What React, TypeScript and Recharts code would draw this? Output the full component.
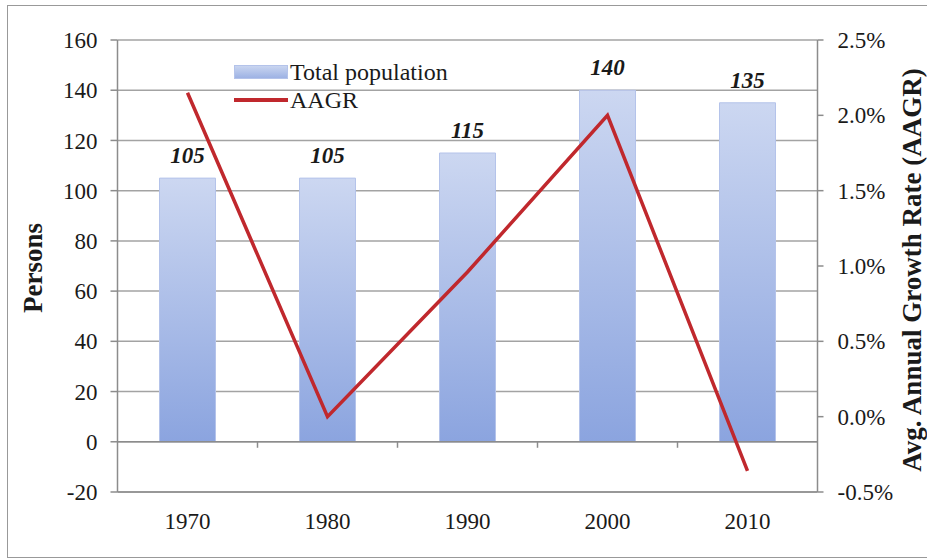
import { Bar, ComposedChart, Line, XAxis, YAxis, CartesianGrid, Legend, LabelList, ReferenceLine, Label } from 'recharts'

const YEARS = ['1970', '1980', '1990', '2000', '2010']
const POPULATION = [105, 105, 115, 140, 135]
const AAGR = [2.15, 0.0, 0.96, 2.0, -0.36]
const PERSON_TICKS = [-20, 0, 20, 40, 60, 80, 100, 120, 140, 160]
const RATE_TICKS = [-0.5, 0, 0.5, 1.0, 1.5, 2.0, 2.5]

const data = YEARS.map((year, i) => ({ year, population: POPULATION[i], aagr: AAGR[i] }))

const FONT = 'Liberation Serif'
const GRID = '#a3a3a3'
const AXIS = '#8c8c8c'
const RED = '#c0282d'
const TEXT = '#1a1a1a'

const tickStyle = { fontFamily: FONT, fontSize: 23, fill: TEXT }

// small marks between categories on the zero line
const ZeroAxis = (props: any) => {
  const { x, y, width } = props.viewBox
  const step = width / YEARS.length
  return (
    <g>
      {YEARS.slice(1).map((_, i) => (
        <line key={i} x1={x + step * (i + 1)} x2={x + step * (i + 1)} y1={y} y2={y + 6} stroke={AXIS} strokeWidth={1.5} />
      ))}
    </g>
  )
}

const PersonsTitle = (props: any) => {
  const { x, y, height } = props.viewBox
  const cx = x - 17
  const cy = y + height / 2 + 2
  return (
    <text x={cx} y={cy} transform={`rotate(-90 ${cx} ${cy})`} textAnchor="middle" dominantBaseline="central"
      fontFamily={FONT} fontSize={27} fontWeight="bold" fill={TEXT}>
      Persons
    </text>
  )
}

const RateTitle = (props: any) => {
  const { x, y, width, height } = props.viewBox
  const cx = x + width + 25
  const cy = y + height / 2 + 4
  return (
    <text x={cx} y={cy} transform={`rotate(-90 ${cx} ${cy})`} textAnchor="middle" dominantBaseline="central"
      fontFamily={FONT} fontSize={27} fontWeight="bold" fill={TEXT}>
      Avg. Annual Growth Rate (AAGR)
    </text>
  )
}

const LegendContent = (props: any) => {
  const items = [...(props.payload || [])].sort((a: any, b: any) => (a.type === 'line' ? 1 : 0) - (b.type === 'line' ? 1 : 0))
  return (
    <div style={{ fontFamily: FONT, fontSize: 24, color: TEXT, lineHeight: '28px' }}>
      {items.map((entry: any) => (
        <div key={entry.value} style={{ display: 'flex', alignItems: 'center' }}>
          {entry.type === 'line' ? (
            <span style={{ display: 'inline-block', width: 54, height: 4, background: RED }} />
          ) : (
            <span style={{ display: 'inline-block', width: 52, height: 12, background: 'linear-gradient(#c9d5f0, #9db2e4)', border: '1px solid #b4c3ea' }} />
          )}
          <span style={{ marginLeft: 2 }}>{entry.value}</span>
        </div>
      ))}
    </div>
  )
}

export default function App() {
  return (
    <div style={{ position: 'absolute', left: 0, top: 0, width: 927, height: 559, overflow: 'hidden', background: '#fff', fontFamily: FONT }}>
      <div style={{ position: 'absolute', left: 7, top: 5, width: 940, height: 551, border: '1.5px solid #999' }} />
      <ComposedChart width={927} height={559} data={data} margin={{ top: 40, right: 40, bottom: 27, left: 50 }}
        barCategoryGap="30%" style={{ fontFamily: FONT }}>
        <defs>
          <linearGradient id="popFill" x1="0" y1="0" x2="0" y2="1">
            <stop offset="0%" stopColor="#ccd7f1" />
            <stop offset="100%" stopColor="#8ba4df" />
          </linearGradient>
        </defs>
        <CartesianGrid vertical={false} stroke={GRID} strokeWidth={1.5} yAxisId="left" />
        <XAxis dataKey="year" height={40} tickLine={false} tickSize={0} tickMargin={21}
          axisLine={{ stroke: AXIS, strokeWidth: 1.5 }} tick={tickStyle} />
        <YAxis yAxisId="left" domain={[-20, 160]} ticks={PERSON_TICKS} interval={0} width={67.5}
          tickSize={7} tickMargin={13} axisLine={{ stroke: AXIS, strokeWidth: 1.5 }} tickLine={{ stroke: AXIS, strokeWidth: 1.5 }} tick={tickStyle}>
          <Label content={PersonsTitle} />
        </YAxis>
        <YAxis yAxisId="right" orientation="right" domain={[-0.5, 2.5]} ticks={RATE_TICKS} interval={0} width={69.5}
          tickSize={6} tickMargin={14} axisLine={{ stroke: AXIS, strokeWidth: 1.5 }} tickLine={{ stroke: AXIS, strokeWidth: 1.5 }}
          tick={tickStyle} tickFormatter={(v: number) => `${v.toFixed(1)}%`}>
          <Label content={RateTitle} />
        </YAxis>
        <Legend layout="vertical" align="center" verticalAlign="middle" content={LegendContent}
          wrapperStyle={{ left: 234, top: 58, width: 'auto' }} />
        <ReferenceLine yAxisId="left" y={0} stroke={AXIS} strokeWidth={1.5} label={ZeroAxis} />
        <Bar yAxisId="left" dataKey="population" name="Total population" fill="url(#popFill)" stroke="#b4c3ea" isAnimationActive={false}>
          <LabelList dataKey="population" position="top" offset={15} fontFamily={FONT} fontSize={23} fontWeight="bold" fontStyle="italic" fill={TEXT} />
        </Bar>
        <Line yAxisId="right" dataKey="aagr" name="AAGR" type="linear" stroke={RED} strokeWidth={3.5} dot={false} activeDot={false} isAnimationActive={false} />
      </ComposedChart>
    </div>
  )
}
